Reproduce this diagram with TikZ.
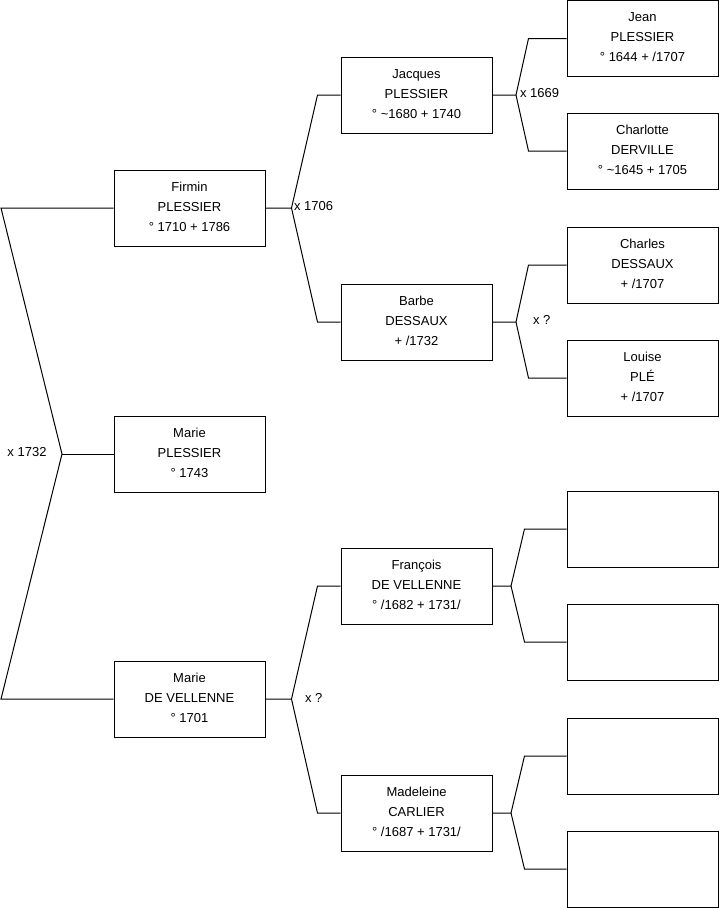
\documentclass[tikz,border=0pt]{standalone}
\usepackage{fontspec}
\setmainfont{Liberation Sans}
\usetikzlibrary{positioning,calc}

\begin{document}
\begin{tikzpicture}[x=0.75pt,y=-0.75pt,font=\fontsize{9.75}{15}\selectfont,line width=0.75pt,
  person/.style={draw,minimum width=113.25pt,minimum height=57pt,align=center,inner sep=0pt,text depth=1.5pt},
  wed/.style={anchor=west,inner sep=0pt}]
  \useasboundingbox (0,0) rectangle (719,908);
  % generation 1
  \node[person] (firmin) at (189.5,208) {Firmin\\PLESSIER\\° 1710 + 1786};
  \node[person] (marieP) at (189.5,454) {Marie\\PLESSIER\\° 1743};
  \node[person] (marieV) at (189.5,699) {Marie\\DE VELLENNE\\° 1701};
  % generation 2
  \node[person] (jacques) at (416.5,95) {Jacques\\PLESSIER\\° \textasciitilde1680 + 1740};
  \node[person] (barbe) at (416.5,322) {Barbe\\DESSAUX\\+ /1732};
  \node[person] (francois) at (416.5,586) {François\\DE VELLENNE\\° /1682 + 1731/};
  \node[person] (madeleine) at (416.5,813) {Madeleine\\CARLIER\\° /1687 + 1731/};
  % generation 3
  \node[person] (jean) at (642.5,38.5) {Jean\\PLESSIER\\° 1644 + /1707};
  \node[person] (charlotte) at (642.5,151) {Charlotte\\DERVILLE\\° \textasciitilde1645 + 1705};
  \node[person] (charles) at (642.5,265) {Charles\\DESSAUX\\+ /1707};
  \node[person] (louise) at (642.5,378) {Louise\\PLÉ\\+ /1707};
  \node[person] (ff) at (642.5,529) {};
  \node[person] (fm) at (642.5,642) {};
  \node[person] (mf) at (642.5,756) {};
  \node[person] (mm) at (642.5,869) {};

  % marriage of Firmin and Marie
  \coordinate (lft) at (1,0);
  \coordinate (v0) at (62,454);
  \draw (firmin.west) -- (firmin.west -| lft) -- (v0) -- (marieV.west -| lft) -- (marieV.west);
  \draw (v0) -- (marieP.west);
  \node[wed,anchor=east] at ($(v0)+(-15,-1.5)$) {x 1732};

  % parents of Firmin
  \coordinate (v1) at ($(firmin.east)+(26,0)$);
  \draw (firmin.east) -- (v1) -- ($(jacques.west)+(-23,0)$) -- (jacques.west);
  \draw (v1) -- ($(barbe.west)+(-23,0)$) -- (barbe.west);
  \node[wed] at ($(v1)+(2,-1.5)$) {x 1706};

  % parents of Marie
  \coordinate (v2) at ($(marieV.east)+(26,0)$);
  \draw (marieV.east) -- (v2) -- ($(francois.west)+(-23,0)$) -- (francois.west);
  \draw (v2) -- ($(madeleine.west)+(-23,0)$) -- (madeleine.west);
  \node[wed] at ($(v2)+(13,-1.5)$) {x ?};

  % parents of Jacques
  \coordinate (v3) at ($(jacques.east)+(23.5,0)$);
  \draw (jacques.east) -- (v3) -- ($(jean.west)+(-38,0)$) -- (jean.west);
  \draw (v3) -- ($(charlotte.west)+(-38,0)$) -- (charlotte.west);
  \node[wed] at ($(v3)+(3.5,-1.5)$) {x 1669};

  % parents of Barbe
  \coordinate (v4) at ($(barbe.east)+(23.5,0)$);
  \draw (barbe.east) -- (v4) -- ($(charles.west)+(-38,0)$) -- (charles.west);
  \draw (v4) -- ($(louise.west)+(-38,0)$) -- (louise.west);
  \node[wed] at ($(v4)+(16.5,-2.5)$) {x ?};

  % parents of François
  \coordinate (v5) at ($(francois.east)+(18.5,0)$);
  \draw (francois.east) -- (v5) -- ($(ff.west)+(-42,0)$) -- (ff.west);
  \draw (v5) -- ($(fm.west)+(-42,0)$) -- (fm.west);

  % parents of Madeleine
  \coordinate (v6) at ($(madeleine.east)+(18.5,0)$);
  \draw (madeleine.east) -- (v6) -- ($(mf.west)+(-42,0)$) -- (mf.west);
  \draw (v6) -- ($(mm.west)+(-42,0)$) -- (mm.west);
\end{tikzpicture}
\end{document}
